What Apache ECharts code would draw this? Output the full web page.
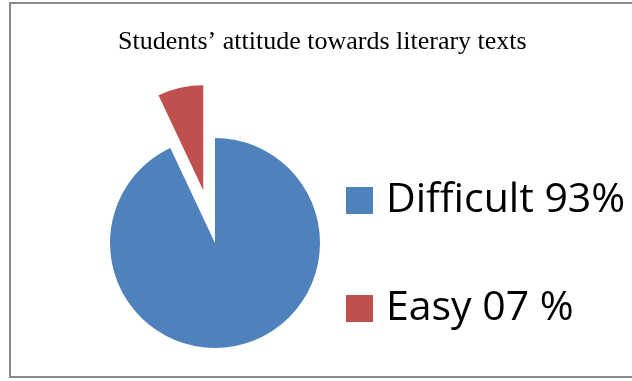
<!DOCTYPE html>
<html>
<head>
<meta charset="utf-8">
<script src="https://cdn.jsdelivr.net/npm/echarts@6/dist/echarts.min.js"></script>
<style>
html,body{margin:0;padding:0;background:#fff;}
#chart{width:632px;height:381px;}
</style>
</head>
<body>
<div id="chart"></div>
<script>
var titleText = 'Students\u2019 attitude towards literary texts';
var categories = ['Difficult 93%', 'Easy 07 %'];
var values = [93, 7];
var colors = ['#4F81BD', '#C0504D'];
var explodedIndex = 1;

var chart = echarts.init(document.getElementById('chart'), null, {renderer: 'canvas'});
var pieData = categories.map(function (c, i) {
  return {
    name: c,
    value: values[i],
    selected: i === explodedIndex,
    itemStyle: {color: colors[i]}
  };
});
chart.setOption({
  animation: false,
  backgroundColor: '#fff',
  graphic: [{
    type: 'rect',
    shape: {x: 10, y: 3, width: 640, height: 374},
    style: {fill: 'none', stroke: '#8a8a8a', lineWidth: 2},
    silent: true
  }],
  title: {
    text: titleText,
    left: 113,
    top: 24,
    textStyle: {fontFamily: 'Liberation Serif', fontSize: 26, fontWeight: 'normal', color: '#000'}
  },
  legend: {
    orient: 'vertical',
    left: 341,
    top: 175,
    icon: 'rect',
    itemWidth: 27,
    itemHeight: 27,
    itemGap: 67,
    selectedMode: false,
    data: categories,
    textStyle: {
      fontFamily: 'Open Sans',
      fontSize: 41,
      color: '#000',
      padding: [0, 0, 0, 8]
    }
  },
  series: [{
    type: 'pie',
    center: [215, 243],
    radius: 105,
    startAngle: 90,
    clockwise: true,
    selectedMode: 'single',
    selectedOffset: 54,
    label: {show: false},
    labelLine: {show: false},
    emphasis: {disabled: true},
    itemStyle: {borderWidth: 0},
    data: pieData
  }]
});
</script>
</body>
</html>
